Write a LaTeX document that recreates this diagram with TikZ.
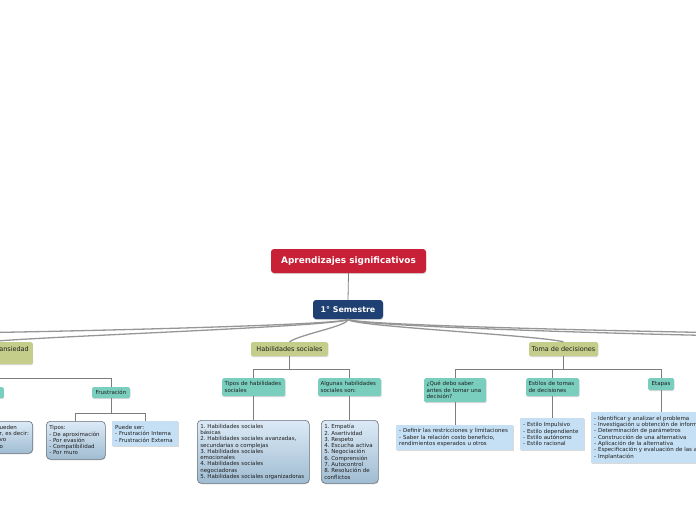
\documentclass[tikz,border=0pt]{standalone}
\usepackage{fontspec}
\setmainfont{DejaVu Sans}
\usetikzlibrary{shadows,calc}
\definecolor{rootred}{RGB}{200,32,55}
\definecolor{semblue}{RGB}{30,64,115}
\definecolor{topicgreen}{RGB}{196,205,137}
\definecolor{subteal}{RGB}{122,206,190}
\definecolor{flatblue}{RGB}{197,224,244}
\definecolor{gtop}{RGB}{220,234,246}
\definecolor{gbot}{RGB}{160,188,210}
\definecolor{gborder}{RGB}{105,115,125}
\definecolor{linegray}{RGB}{125,125,125}
\definecolor{maingray}{RGB}{150,150,150}
\definecolor{txt}{RGB}{30,30,30}
\frenchspacing
\hyphenpenalty=10000
\begin{document}
\begin{tikzpicture}[x=1pt,y=-1pt,
  shad/.style={drop shadow={shadow xshift=0.4pt,shadow yshift=-1pt,opacity=0.3}},
  rootbox/.style={shad,fill=rootred,text=white,font=\fontsize{8.9}{10}\selectfont\bfseries,
    rounded corners=3pt,minimum width=155pt,minimum height=24pt,inner sep=0pt},
  sembox/.style={shad,fill=semblue,text=white,font=\fontsize{7.9}{9}\selectfont\bfseries,
    rounded corners=3pt,minimum width=70pt,minimum height=19pt,inner sep=0pt},
  topic/.style={shad,fill=topicgreen,text=txt,font=\fontsize{6.5}{8}\selectfont,
    rounded corners=1.5pt,minimum height=14pt,inner sep=0pt},
  subbox/.style={shad,fill=subteal,text=txt,font=\fontsize{5.5}{6.6}\selectfont\frenchspacing,
    rounded corners=1.5pt,inner xsep=2.5pt,inner ysep=0pt,align=left},
  gbox/.style={shad,top color=gtop,bottom color=gbot,draw=gborder,line width=0.6pt,
    rounded corners=4pt,text=txt,font=\fontsize{5.5}{6.3}\selectfont\frenchspacing,
    inner xsep=3pt,inner ysep=0pt,align=left},
  fbox/.style={shad,fill=flatblue,text=txt,font=\fontsize{5.5}{6.3}\selectfont\frenchspacing,
    inner xsep=3pt,inner ysep=0pt,align=left},
  plaintext/.style={text=txt,font=\fontsize{5.5}{6.3}\selectfont,inner sep=0pt,align=left},
  conn/.style={draw=linegray,line width=0.8pt},
  mainconn/.style={draw=maingray,line width=1.3pt}
]
\useasboundingbox (0,0) rectangle (696,520);
\clip (0,0) rectangle (696,520);

% main nodes
\node[rootbox] (root) at (348.5,261) {Aprendizajes significativos};
\node[sembox] (sem) at (348,309.5) {1° Semestre};

% topics
\node[topic,minimum width=77pt] (hab) at (289.5,349) {Habilidades sociales};
\node[topic,minimum width=69pt] (toma) at (563.5,349) {Toma de decisiones};
\node[topic,anchor=north east,minimum width=93pt,minimum height=22pt,text width=85pt,
  inner xsep=4pt,align=right] (ans) at (33,342) {ansiedad\\\mbox{}};

% off-screen targets
\coordinate (offL) at (-40,333);
\coordinate (offR1) at (740,333);
\coordinate (offR2) at (740,336);

% main connectors
\draw[conn] (root.south) -- (sem.north);
\draw[mainconn] (sem.south) .. controls +(0,6) and +(80,-1) .. (offL);
\draw[mainconn] (sem.south) .. controls +(0,7) and +(40,-5) .. (ans.north);
\draw[mainconn] (sem.south) .. controls +(0,7) and +(12,-8) .. (hab.north);
\draw[mainconn] (sem.south) .. controls +(0,7) and +(-30,-7) .. (toma.north);
\draw[mainconn] (sem.south) .. controls +(0,6) and +(-80,-1) .. (offR1);
\draw[mainconn] (sem.south) .. controls +(0,7) and +(-80,-1) .. (offR2);

% ansiedad branch
\node[subbox,anchor=north east,minimum width=40pt,minimum height=11pt] (ansleft) at (4,387) {};
\node[subbox,minimum width=38pt,minimum height=11pt] (frus) at (111,392.5) {Frustración};
\node[gbox,anchor=north east,minimum width=90pt,minimum height=32pt] (ansdesc) at (33,421) {};
\node[plaintext,anchor=north west] (ansdesctext) at (-0.5,425) {ueden\\r, es decir:\\vo\\o};
\node[gbox,anchor=north west,minimum width=59pt,minimum height=38pt,text width=53pt] (frustipos) at (46,421)
  {Tipos:\\- De aproximación\\- Por evasión\\- Compatibilidad\\- Por muro};
\node[fbox,anchor=north west,minimum width=66pt,minimum height=25pt,text width=60pt] (frusser) at (112,421)
  {Puede ser:\\- Frustración Interna\\- Frustración Externa};

\coordinate (aj) at ($(ans.south)+(0,14)$);
\draw[conn] (ans.south) -- (aj);
\draw[conn] (ansleft.north) |- (aj) -| (frus.north);
\draw[conn] (ansleft.south) -- (ansleft.south |- ansdesc.north);
\coordinate (fj) at ($(frus.south)+(0,15)$);
\draw[conn] (frus.south) -- (fj);
\draw[conn] (frustipos.north) |- (fj) -| (frusser.north);

% habilidades branch
\node[subbox,anchor=north west,minimum width=63pt,minimum height=18pt,text width=58pt] (tiposhab) at (222,378)
  {Tipos de habilidades\\sociales};
\node[subbox,anchor=north west,minimum width=63pt,minimum height=18pt,text width=58pt] (algunas) at (318,378)
  {Algunas habilidades\\sociales son:};
\node[gbox,anchor=north west,minimum width=112pt,minimum height=63pt,text width=106pt] (habbox) at (197,420)
  {1. Habilidades sociales\\básicas\\2. Habilidades sociales avanzadas,\\secundarias o complejas\\3. Habilidades sociales\\emocionales\\4. Habilidades sociales\\negociadoras\\5. Habilidades sociales organizadoras};
\node[gbox,anchor=north west,minimum width=57pt,minimum height=63pt,text width=51pt] (algbox) at (321,420)
  {1. Empatía\\2. Asertividad\\3. Respeto\\4. Escucha activa\\5. Negociación\\6. Comprensión\\7. Autocontrol\\8. Resolución de\\conflictos};

\coordinate (hj) at ($(hab.south)+(0,13)$);
\draw[conn] (hab.south) -- (hj);
\draw[conn] (tiposhab.north) |- (hj) -| (algunas.north);
\draw[conn] (tiposhab.south) -- (tiposhab.south |- habbox.north);
\draw[conn] (algunas.south) -- (algunas.south |- algbox.north);

% toma de decisiones branch
\node[subbox,anchor=north west,minimum width=62pt,minimum height=24pt,text width=57pt] (que) at (424,378)
  {¿Qué debo saber\\antes de tomar una\\decisión?};
\node[subbox,anchor=north west,minimum width=53pt,minimum height=18pt,text width=48pt] (estilos) at (526,378)
  {Estilos de tomas\\de decisiones};
\node[subbox,minimum width=26pt,minimum height=12pt,align=center] (etapas) at (661,384) {Etapas};
\node[fbox,anchor=north west,minimum width=117pt,minimum height=25pt,text width=111pt] (quebox) at (396,425)
  {- Definir las restricciones y limitaciones\\- Saber la relación costo beneficio,\\rendimientos esperados u otros};
\node[fbox,anchor=north west,minimum width=64pt,minimum height=32pt,text width=58pt] (estbox) at (520,418)
  {- Estilo Impulsivo\\- Estilo dependiente\\- Estilo autónomo\\- Estilo racional};
\node[fbox,anchor=north west,minimum width=160pt,minimum height=51pt,text width=154pt] (etabox) at (591,412)
  {- Identificar y analizar el problema\\- Investigación u obtención de información\\- Determinación de parámetros\\- Construcción de una alternativa\\- Aplicación de la alternativa\\- Especificación y evaluación de las alternativas\\- Implantación};

\coordinate (tj) at ($(toma.south)+(0,13)$);
\draw[conn] (toma.south) -- (tj);
\draw[conn] (que.north) |- (tj) -| (etapas.north);
\draw[conn] (estilos.north) -- (estilos.north |- tj);
\draw[conn] (que.south) -- (que.south |- quebox.north);
\draw[conn] (estilos.south) -- (estilos.south |- estbox.north);
\draw[conn] (etapas.south) -- (etapas.south |- etabox.north);
\end{tikzpicture}
\end{document}
